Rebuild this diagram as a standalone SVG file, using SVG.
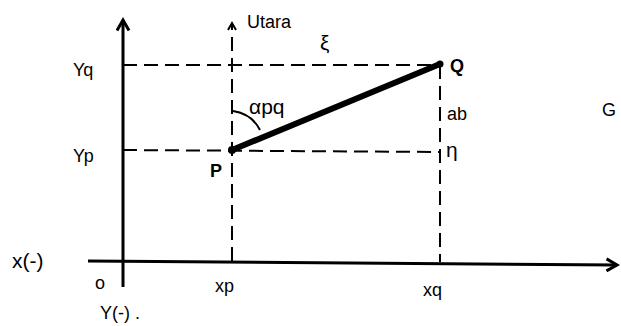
<svg xmlns="http://www.w3.org/2000/svg" width="621" height="326" viewBox="0 0 621 326">
<style>
.ax{stroke:#000;stroke-width:3;fill:none}
.da{stroke:#000;stroke-width:2;fill:none;stroke-dasharray:14 7}
.t{font-family:"Liberation Sans",Arial,sans-serif;font-size:18px;fill:#000}
.l{font-size:21px}
.b{font-weight:bold}
</style>
<defs>
<marker id="ah" viewBox="0 0 10 10" refX="8" refY="5" markerWidth="5" markerHeight="5" orient="auto">
<path d="M1,1 L8,5 L1,9" fill="none" stroke="#000" stroke-width="2"/>
</marker>
</defs>
<rect width="621" height="326" fill="#fff"/>
<g id="connectors">
<line class="ax" x1="123" y1="287" x2="123" y2="20" marker-end="url(#ah)"/>
<line class="ax" x1="88" y1="261" x2="617" y2="265" marker-end="url(#ah)"/>
<line class="da" x1="232" y1="261" x2="232" y2="23" marker-end="url(#ah)"/>
<line class="da" x1="123" y1="65" x2="440" y2="65"/>
<line class="da" x1="123" y1="150" x2="440" y2="152"/>
<line class="da" x1="440" y1="65" x2="440" y2="262"/>
<line x1="232" y1="150" x2="440" y2="64" stroke="#000" stroke-width="6" stroke-linecap="round"/>
<path d="M233,111 Q252,114 260,130" fill="none" stroke="#000" stroke-width="2"/>
</g>
<g id="P"><circle cx="232" cy="150" r="4"/><text class="t b" x="210" y="177">P</text></g>
<g id="Q"><circle cx="440" cy="64" r="3.5"/><text class="t b" x="450" y="72">Q</text></g>
<g id="labels">
<text class="t" x="73" y="76">Yq</text>
<text class="t" x="73" y="162">Yp</text>
<text class="t" x="247" y="28">Utara</text>
<text class="t l" x="320" y="50">ξ</text>
<text class="t l" x="249" y="114">αpq</text>
<text class="t" x="447" y="120">ab</text>
<text class="t l" x="446" y="157">η</text>
<text class="t" x="602" y="116">G</text>
<text class="t l" x="12" y="268">x(-)</text>
<text class="t" x="95" y="289">o</text>
<text class="t" x="215" y="292">xp</text>
<text class="t" x="423" y="296">xq</text>
<text class="t" x="100" y="319">Y(-) .</text>
</g>
</svg>
